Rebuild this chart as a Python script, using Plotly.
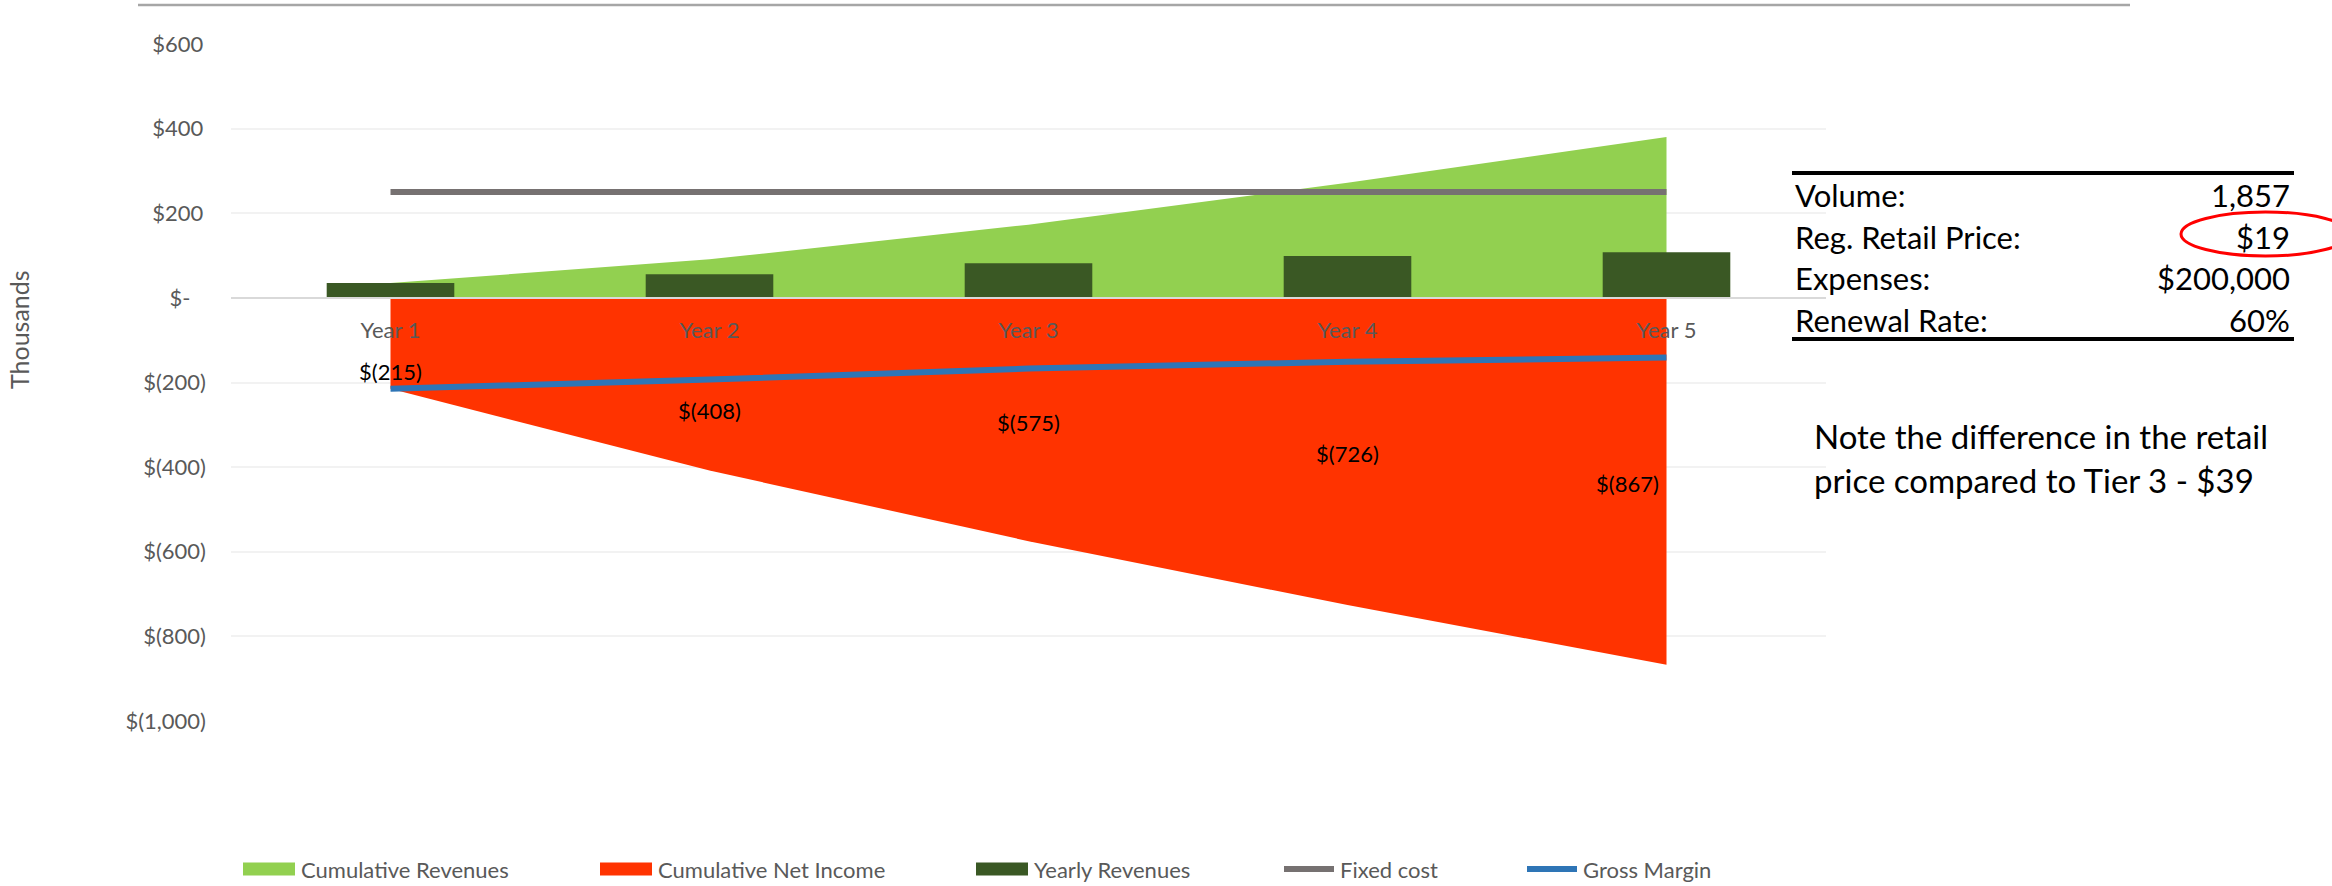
import plotly.graph_objects as go

# ---------------- data (values in thousands of $) ----------------
years = ["Year 1", "Year 2", "Year 3", "Year 4", "Year 5"]
cumulative_revenues = [35, 91, 173, 272, 380]
cumulative_net_income = [-215, -408, -575, -726, -867]
yearly_revenues = [35, 56, 82, 99, 108]
fixed_cost = [250, 250, 250, 250, 250]
gross_margin = [-215, -193, -167, -151, -141]

y_tick_vals = [600, 400, 200, 0, -200, -400, -600, -800, -1000]
y_tick_text = ["$600\u2009", "$400\u2009", "$200\u2009", "$-\u2007\u2009", "$(200)", "$(400)",
               "$(600)", "$(800)", "$(1,000)"]

series_names = ["Cumulative Revenues", "Cumulative Net Income", "Yearly Revenues",
                "Fixed cost", "Gross Margin"]

table_labels = ["Volume:", "Reg. Retail Price:", "Expenses:", "Renewal Rate:"]
table_values = ["1,857", "$19", "$200,000", "60%"]
note_lines = ["Note the difference in the retail", "price compared to Tier 3 - $39"]

# ---------------- styles / geometry ----------------
FONT = "Lato"
GREY_TXT = "#595959"
C_CUMREV = "#92D050"
C_CUMNI = "#FF3300"
C_YEARLY = "#3A5824"
C_FIXED = "#767171"
C_GM = "#2E75B6"
FS = 22

W, H = 2332, 886
ML, MR, MT, MB = 231, 506, 44, 165
PW, PH = W - ML - MR, H - MT - MB
Y_RANGE = [-1000, 600]


def pxx(x):
    return (x - ML) / PW


def pxy(y):
    return (MT + PH - y) / PH


fig = go.Figure()

# areas (main subplot, drawn below)
fig.add_trace(go.Scatter(x=years, y=cumulative_revenues, name=series_names[0], mode="none",
                         fill="tozeroy", fillcolor=C_CUMREV, showlegend=False))
fig.add_trace(go.Scatter(x=years, y=cumulative_net_income, name=series_names[1], mode="none",
                         fill="tozeroy", fillcolor=C_CUMNI, showlegend=False))
# bars and lines (overlay subplot, drawn on top)
fig.add_trace(go.Bar(x=years, y=yearly_revenues, name=series_names[2], marker_color=C_YEARLY,
                     marker_line_width=0, yaxis="y2", showlegend=False))
fig.add_trace(go.Scatter(x=years, y=fixed_cost, name=series_names[3], mode="lines",
                         line=dict(color=C_FIXED, width=6), yaxis="y2", showlegend=False))
fig.add_trace(go.Scatter(x=years, y=gross_margin, name=series_names[4], mode="lines",
                         line=dict(color=C_GM, width=6), yaxis="y2", showlegend=False))

annotations = []
shapes = []

# data labels of cumulative net income
label_y = [-175, -265, -294, -367, -438]
label_anchor = ["center", "center", "center", "center", "right"]
label_shift = [0, 0, 0, 0, -6]
for i, v in enumerate(cumulative_net_income):
    annotations.append(dict(x=years[i], y=label_y[i], xref="x", yref="y",
                            text=f"$({abs(v):,})", showarrow=False,
                            xanchor=label_anchor[i], yanchor="middle", xshift=label_shift[i],
                            font=dict(family=FONT, size=FS, color="#000000")))

# axis title "Thousands"
annotations.append(dict(x=pxx(19), y=pxy(329), xref="paper", yref="paper", text="Thousands",
                        textangle=-90, showarrow=False, xanchor="center", yanchor="middle",
                        font=dict(family=FONT, size=25, color=GREY_TXT)))

# manual legend
leg_x = [243, 600, 976, 1282, 1525]
leg_kind = ["rect", "rect", "rect", "line", "line"]
leg_color = [C_CUMREV, C_CUMNI, C_YEARLY, C_FIXED, C_GM]
leg_yc = 869
for name, x0, kind, col in zip(series_names, leg_x, leg_kind, leg_color):
    if kind == "rect":
        shapes.append(dict(type="rect", xref="paper", yref="paper",
                           x0=pxx(x0), x1=pxx(x0 + 52), y0=pxy(leg_yc + 6.5), y1=pxy(leg_yc - 6.5),
                           fillcolor=col, line=dict(width=0)))
    else:
        shapes.append(dict(type="line", xref="paper", yref="paper",
                           x0=pxx(x0 + 2), x1=pxx(x0 + 52), y0=pxy(leg_yc), y1=pxy(leg_yc),
                           line=dict(color=col, width=6)))
    annotations.append(dict(x=pxx(x0 + 56), y=pxy(leg_yc), xref="paper", yref="paper", text=name,
                            showarrow=False, xanchor="left", yanchor="middle",
                            font=dict(family=FONT, size=FS, color=GREY_TXT)))

# top rule line
shapes.append(dict(type="line", xref="paper", yref="paper", x0=pxx(138), x1=pxx(2130),
                   y0=pxy(5), y1=pxy(5), line=dict(color="#A6A6A6", width=2.5)))

# parameter table
tab_x0, tab_x1 = 1792, 2294
shapes.append(dict(type="line", xref="paper", yref="paper", x0=pxx(tab_x0), x1=pxx(tab_x1),
                   y0=pxy(173), y1=pxy(173), line=dict(color="#000000", width=4)))
shapes.append(dict(type="line", xref="paper", yref="paper", x0=pxx(tab_x0), x1=pxx(tab_x1),
                   y0=pxy(339), y1=pxy(339), line=dict(color="#000000", width=4)))
row_y = [195, 236.5, 278, 319.5]
for lab, val, yc in zip(table_labels, table_values, row_y):
    annotations.append(dict(x=pxx(tab_x0 + 1), y=pxy(yc), xref="paper", yref="paper", text=lab,
                            showarrow=False, xanchor="left", yanchor="middle",
                            font=dict(family=FONT, size=31, color="#000000")))
    annotations.append(dict(x=pxx(tab_x1 - 2), y=pxy(yc), xref="paper", yref="paper", text=val,
                            showarrow=False, xanchor="right", yanchor="middle",
                            font=dict(family=FONT, size=31, color="#000000")))
# red ellipse around the retail price
shapes.append(dict(type="circle", xref="paper", yref="paper", x0=pxx(2181), x1=pxx(2350),
                   y0=pxy(212), y1=pxy(256), line=dict(color="#FF0000", width=3)))

# note text
for line_txt, yc in zip(note_lines, [436, 480]):
    annotations.append(dict(x=pxx(1812), y=pxy(yc), xref="paper", yref="paper", text=line_txt,
                            showarrow=False, xanchor="left", yanchor="middle",
                            font=dict(family=FONT, size=33, color="#000000")))

zero_pos = (0 - Y_RANGE[0]) / (Y_RANGE[1] - Y_RANGE[0])

fig.update_layout(
    template="none",
    width=W, height=H, autosize=False,
    margin=dict(l=ML, r=MR, t=MT, b=MB, pad=0),
    paper_bgcolor="white", plot_bgcolor="white",
    font=dict(family=FONT, size=FS, color=GREY_TXT),
    showlegend=False,
    bargap=0.6,
    xaxis=dict(type="category", range=[-0.5, 4.5], anchor="free", position=zero_pos,
               showline=True, linecolor="#D9D9D9", linewidth=2, showgrid=False, zeroline=False,
               ticks="", ticklabelstandoff=13, automargin=False,
               tickfont=dict(family=FONT, size=FS, color=GREY_TXT)),
    yaxis=dict(range=Y_RANGE, tickvals=y_tick_vals, ticktext=y_tick_text, showgrid=True,
               gridcolor="#F2F2F2", gridwidth=1.5, zeroline=False, showline=False, ticks="",
               ticklabelstandoff=24, automargin=False,
               tickfont=dict(family=FONT, size=FS, color=GREY_TXT)),
    yaxis2=dict(range=Y_RANGE, overlaying="y", anchor="x", visible=False, showgrid=False,
                zeroline=False, automargin=False),
    annotations=annotations,
    shapes=shapes,
)

fig.write_html("out.html")
